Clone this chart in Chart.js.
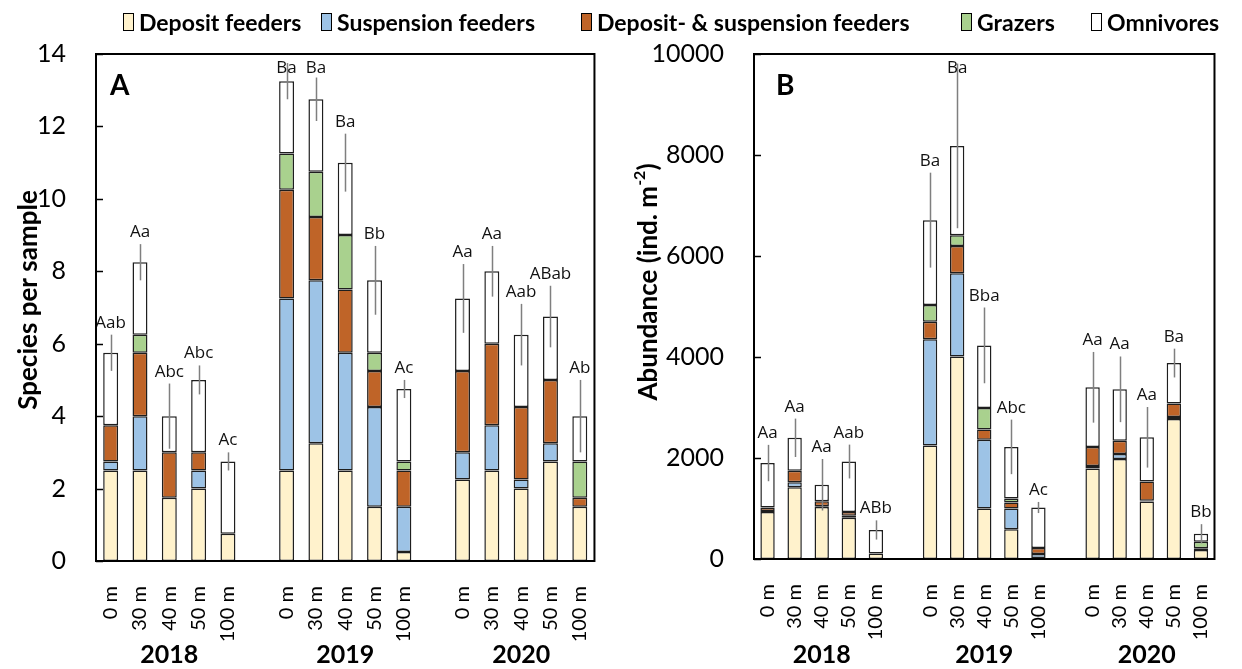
<!DOCTYPE html>
<html>
<head>
<meta charset="utf-8">
<script src="https://cdn.jsdelivr.net/npm/chart.js@4.4.1/dist/chart.umd.min.js"></script>
<style>
  html, body { margin: 0; padding: 0; background: #fff; }
  #page { position: relative; width: 1242px; height: 669px; overflow: hidden; }
  canvas { position: absolute; top: 0; }
  #legend { position: absolute; top: 0; left: 0; width: 1242px; height: 44px;
            font: bold 23px Lato, "Open Sans", sans-serif; color: #000; }
  .item { position: absolute; top: 8px; height: 28px; display: flex; align-items: center; white-space: nowrap; }
  .sw { width: 9px; height: 16px; border: 1.5px solid #000; margin-right: 5px; }
</style>
</head>
<body>
<div id="page">
  <canvas id="chartA" width="621" height="669" style="left:0px"></canvas>
  <canvas id="chartB" width="621" height="669" style="left:621px"></canvas>
  <div id="legend"></div>
</div>
<script>
// ---- categories ----
const depths = ['0 m', '30 m', '40 m', '50 m', '100 m'];
const years = ['2018', '2019', '2020'];
const seriesNames = ['Deposit feeders', 'Suspension feeders', 'Deposit- & suspension feeders', 'Grazers', 'Omnivores'];
const seriesColors = ['#FFF2CC', '#9DC3E6', '#BF6428', '#A9D18E', '#FFFFFF'];

// ---- A: species per sample (2018 0..100 m, 2019 0..100 m, 2020 0..100 m) ----
const depositA     = [2.5, 2.5, 1.75, 2.0, 0.75,  2.5, 3.25, 2.5, 1.5, 0.25,  2.25, 2.5, 2.0, 2.75, 1.5];
const suspensionA  = [0.25, 1.5, 0, 0.5, 0,       4.75, 4.5, 3.25, 2.75, 1.25, 0.75, 1.25, 0.25, 0.5, 0];
const depSuspA     = [1.0, 1.75, 1.25, 0.5, 0,    3.0, 1.75, 1.75, 1.0, 1.0,  2.25, 2.25, 2.0, 1.75, 0.25];
const grazersA     = [0, 0.5, 0, 0, 0,            1.0, 1.25, 1.5, 0.5, 0.25,  0, 0, 0, 0, 1.0];
const omnivoresA   = [2.0, 2.0, 1.0, 2.0, 2.0,    2.0, 2.0, 2.0, 2.0, 2.0,    2.0, 2.0, 2.0, 1.75, 1.25];
const errorsA      = [0.5, 0.5, 0.9, 0.4, 0.25,   0.5, 0.6, 0.8, 0.95, 0.25,  0.95, 0.7, 0.85, 0.85, 1.0];
const lettersA     = ['Aab', 'Aa', 'Abc', 'Abc', 'Ac', 'Ba', 'Ba', 'Ba', 'Bb', 'Ac', 'Aa', 'Aa', 'Aab', 'ABab', 'Ab'];
const ticksA       = { max: 14, step: 2 };

// ---- B: abundance (ind. m-2) ----
const depositB     = [930, 1420, 1030, 815, 110,   2250, 4010, 1000, 590, 20,   1790, 1980, 1140, 2770, 180];
const suspensionB  = [20, 100, 15, 40, 0,          2100, 1650, 1360, 410, 80,   50, 100, 15, 40, 0];
const depSuspB     = [70, 230, 100, 75, 0,         350, 540, 205, 120, 120,     380, 260, 380, 270, 35];
const grazersB     = [0, 0, 0, 0, 0,               330, 210, 425, 80, 0,        0, 0, 0, 0, 125];
const omnivoresB   = [880, 650, 325, 1000, 465,    1680, 1770, 1240, 1020, 800, 1180, 1020, 875, 800, 160];
const errorsB      = [360, 380, 510, 335, 190,     940, 1630, 750, 540, 110,    700, 650, 600, 285, 190];
const lettersB     = ['Aa', 'Aa', 'Aa', 'Aab', 'ABb', 'Ba', 'Ba', 'Bba', 'Abc', 'Ac', 'Aa', 'Aa', 'Aa', 'Ba', 'Bb'];
const ticksB       = { max: 10000, step: 2000 };

// one empty slot separates the year groups
function withGaps(arr) {
  const out = [];
  arr.forEach((v, i) => { if (i > 0 && i % depths.length === 0) out.push(null); out.push(v); });
  return out;
}
const slotLabels = withGaps(years.flatMap(() => depths)).map(v => v === null ? '' : v);

// legend
const legendLefts = [123, 321, 581, 961, 1091];
const legendEl = document.getElementById('legend');
seriesNames.forEach((name, k) => {
  const it = document.createElement('div');
  it.className = 'item';
  it.style.left = legendLefts[k] + 'px';
  const sw = document.createElement('span');
  sw.className = 'sw';
  sw.style.background = seriesColors[k];
  const tx = document.createElement('span');
  tx.textContent = name;
  it.appendChild(sw); it.appendChild(tx);
  legendEl.appendChild(it);
});

// error bars, significance letters, frame, inner ticks, panel letter, year and axis titles
const panelDecor = {
  id: 'panelDecor',
  afterDraw(chart, args, o) {
    const { ctx, chartArea: a, scales: { x, y } } = chart;
    ctx.save();

    // error bars (no caps)
    ctx.strokeStyle = '#7F7F7F';
    ctx.lineWidth = 1.5;
    o.totals.forEach((t, i) => {
      if (t == null) return;
      const px = Math.round(x.getPixelForValue(i)) + 0.5;
      ctx.beginPath();
      ctx.moveTo(px, y.getPixelForValue(t + o.errors[i]));
      ctx.lineTo(px, y.getPixelForValue(t - o.errors[i]));
      ctx.stroke();
    });

    // letters above the error bars
    ctx.fillStyle = '#111';
    ctx.font = '17px "Open Sans", sans-serif';
    ctx.textAlign = 'center';
    ctx.textBaseline = 'alphabetic';
    o.totals.forEach((t, i) => {
      if (t == null) return;
      const px = x.getPixelForValue(i);
      let by = y.getPixelForValue(t + o.errors[i]) - 7;
      by = Math.max(by, a.top + 19);
      ctx.fillText(o.letters[i], px, by);
    });

    // plot frame
    ctx.strokeStyle = '#000';
    ctx.lineWidth = 2;
    ctx.strokeRect(a.left, a.top, a.right - a.left, a.bottom - a.top);

    // inner tick marks on the value axis
    ctx.lineWidth = 1.5;
    ctx.beginPath();
    y.ticks.forEach(tk => {
      const py = Math.round(y.getPixelForValue(tk.value)) + 0.5;
      ctx.moveTo(a.left, py);
      ctx.lineTo(a.left + 7, py);
    });
    ctx.stroke();

    // panel letter
    ctx.fillStyle = '#000';
    ctx.font = 'bold 28px Lato, sans-serif';
    ctx.textAlign = 'left';
    ctx.fillText(o.panel, a.left + o.panelDx, a.top + 41);

    // year under each group
    ctx.font = 'bold 25px Lato, sans-serif';
    ctx.textAlign = 'center';
    ctx.textBaseline = 'middle';
    years.forEach((yr, g) => {
      const px = x.getPixelForValue(g * (depths.length + 1) + 2);
      ctx.fillText(yr, px, 655);
    });

    // rotated value-axis title with optional superscript
    ctx.translate(o.titleX, o.titleY);
    ctx.rotate(-Math.PI / 2);
    ctx.textAlign = 'left';
    ctx.textBaseline = 'middle';
    const fonts = { n: 'bold 26px Lato, sans-serif', s: 'bold 16px Lato, sans-serif' };
    let total = 0;
    o.title.forEach(p => { ctx.font = fonts[p[1]]; total += ctx.measureText(p[0]).width; });
    let cx = -total / 2;
    o.title.forEach(p => {
      ctx.font = fonts[p[1]];
      ctx.fillText(p[0], cx, p[1] === 's' ? -9 : 0);
      cx += ctx.measureText(p[0]).width;
    });
    ctx.restore();
  }
};

function buildChart(id, p) {
  const datasets = p.series.map((vals, k) => ({
    label: seriesNames[k],
    data: withGaps(vals),
    backgroundColor: seriesColors[k],
    borderColor: '#1E1E1E',
    borderWidth: 1.5,
    borderSkipped: false,
    barPercentage: p.barPct,
    categoryPercentage: 1
  }));
  const totals = withGaps(p.series[0].map((_, i) => p.series.reduce((s, arr) => s + arr[i], 0)));
  return new Chart(document.getElementById(id), {
    type: 'bar',
    data: { labels: slotLabels, datasets },
    options: {
      responsive: false,
      animation: false,
      devicePixelRatio: 1,
      layout: { padding: { left: 0, right: p.padRight, top: 54, bottom: 0 } },
      plugins: {
        legend: { display: false },
        tooltip: { enabled: false },
        panelDecor: {
          totals, errors: withGaps(p.errors), letters: withGaps(p.letters),
          panel: p.panel, panelDx: p.panelDx, title: p.title, titleX: p.titleX, titleY: p.titleY
        }
      },
      scales: {
        x: {
          stacked: true,
          grid: { display: false },
          border: { display: false },
          ticks: { autoSkip: false, maxRotation: 90, minRotation: 90, padding: 17, color: '#000',
                   font: { family: 'Lato', size: 20 } },
          afterFit(s) { s.height = p.xHeight; }
        },
        y: {
          stacked: true,
          min: 0, max: p.ticks.max,
          grid: { display: false },
          border: { display: false },
          ticks: { stepSize: p.ticks.step, padding: 22, color: '#000', font: { family: 'Lato', size: 25 },
                   callback: v => String(v) },
          afterFit(s) { s.width = p.left; }
        }
      }
    },
    plugins: [panelDecor]
  });
}

buildChart('chartA', {
  series: [depositA, suspensionA, depSuspA, grazersA, omnivoresA],
  errors: errorsA, letters: lettersA, ticks: ticksA,
  left: 96, padRight: 7, xHeight: 108, barPct: 0.51,
  panel: 'A', panelDx: 14,
  title: [['Species per sample', 'n']], titleX: 29, titleY: 300
});

buildChart('chartB', {
  series: [depositB, suspensionB, depSuspB, grazersB, omnivoresB],
  errors: errorsB, letters: lettersB, ticks: ticksB,
  left: 133, padRight: 2, xHeight: 110, barPct: 0.53,
  panel: 'B', panelDx: 22,
  title: [['Abundance (ind. m', 'n'], ['-2', 's'], [')', 'n']], titleX: 28, titleY: 282
});
</script>
</body>
</html>
